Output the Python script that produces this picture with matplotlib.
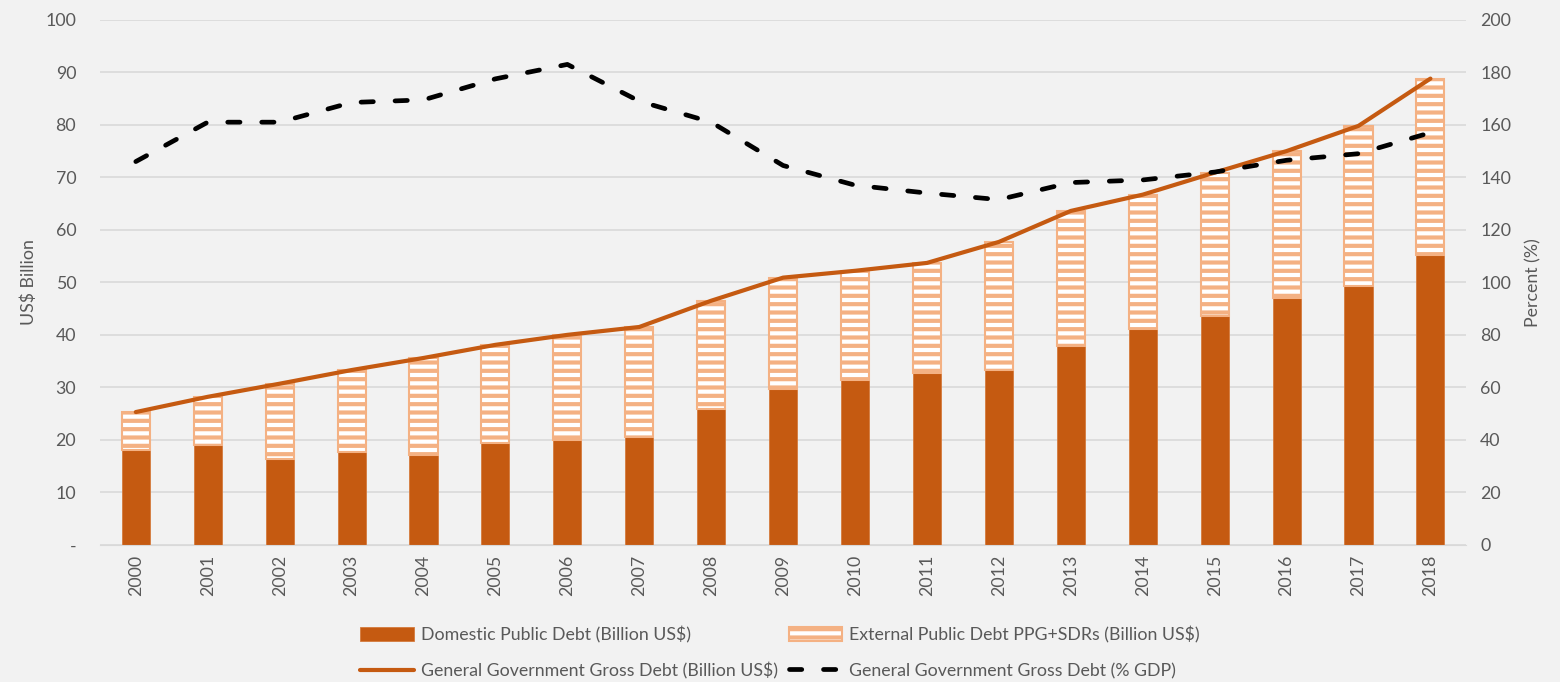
import numpy as np
import matplotlib.pyplot as plt
from matplotlib.ticker import FuncFormatter

plt.rcParams['font.family'] = ['Lato', 'DejaVu Sans']
plt.rcParams['hatch.linewidth'] = 3.0

years = [str(y) for y in range(2000, 2019)]
domestic = [18.1, 19.0, 16.4, 17.7, 17.1, 19.4, 20.0, 20.6, 25.9, 29.7,
            31.4, 32.8, 33.3, 37.9, 41.1, 43.6, 47.0, 49.3, 55.2]
total = [25.3, 28.2, 30.7, 33.3, 35.6, 38.1, 40.0, 41.5, 46.5, 50.9,
         52.2, 53.7, 57.7, 63.6, 66.7, 70.9, 75.0, 79.8, 88.8]
pct_gdp = [146, 161, 161, 168.5, 169.5, 177.5, 183, 169, 161, 144.5,
           137, 134, 131.5, 138, 139, 142, 146.5, 149, 157]
external = [t - d for t, d in zip(total, domestic)]

dark = '#C55A11'
light = '#F4B183'
grey = '#595959'
bg = '#F2F2F2'
fs = 12.8

fig = plt.figure(figsize=(15.6, 6.82), dpi=100, facecolor=bg)
ax = fig.add_axes([0.064, 0.201, 0.876, 0.770])
ax.set_facecolor(bg)
x = np.arange(len(years))

b1 = ax.bar(x, domestic, width=0.39, color=dark, edgecolor='#D57A3C', linewidth=0.6,
            label='Domestic Public Debt (Billion US$)', zorder=2)
b2 = ax.bar(x, external, bottom=domestic, width=0.39, color='white', edgecolor=light,
            hatch='--', linewidth=1.5, label='External Public Debt PPG+SDRs (Billion US$)', zorder=2)
l1, = ax.plot(x, total, color=dark, lw=3.0, solid_capstyle='round',
              label='General Government Gross Debt (Billion US$)', zorder=3)

ax.set_ylim(0, 100)
ax.set_yticks(range(0, 101, 10))
ax.yaxis.set_major_formatter(FuncFormatter(lambda v, p: '-' if v == 0 else f'{v:.0f}'))
ax.set_xlim(-0.5, len(years) - 0.5)
ax.set_xticks(x)
ax.set_xticklabels(years, rotation=90)
ax.grid(axis='y', color='#D9D9D9', lw=1.2, zorder=0)
ax.set_axisbelow(True)
for s in ax.spines.values():
    s.set_visible(False)
ax.spines['bottom'].set_visible(True)
ax.spines['bottom'].set_color('#D9D9D9')
ax.tick_params(length=0, labelsize=fs, labelcolor=grey, pad=7)
ax.tick_params(axis='y', pad=17)
ax.set_ylabel('US$ Billion', fontsize=fs, color=grey, labelpad=6)

ax2 = ax.twinx()
l2, = ax2.plot(x, pct_gdp, color='black', lw=3.4, linestyle=(0, (2.6, 4.6)),
               dash_capstyle='round', label='General Government Gross Debt (% GDP)', zorder=3)
ax2.set_ylim(0, 200)
ax2.set_yticks(range(0, 201, 20))
for s in ax2.spines.values():
    s.set_visible(False)
ax2.tick_params(length=0, labelsize=fs, labelcolor=grey, pad=10)
ax2.set_ylabel('Percent (%)', fontsize=fs, color=grey, labelpad=10)

fig.legend([b1, l1, b2, l2],
           [b1.get_label(), l1.get_label(), b2.get_label(), l2.get_label()],
           ncol=2, loc='lower center', bbox_to_anchor=(0.5, -0.02), frameon=False,
           fontsize=fs, labelcolor=grey, handlelength=3.0, handleheight=0.9,
           columnspacing=0.6, labelspacing=1.1, handletextpad=0.4)

fig.savefig('out.png', dpi=100, facecolor=bg)
